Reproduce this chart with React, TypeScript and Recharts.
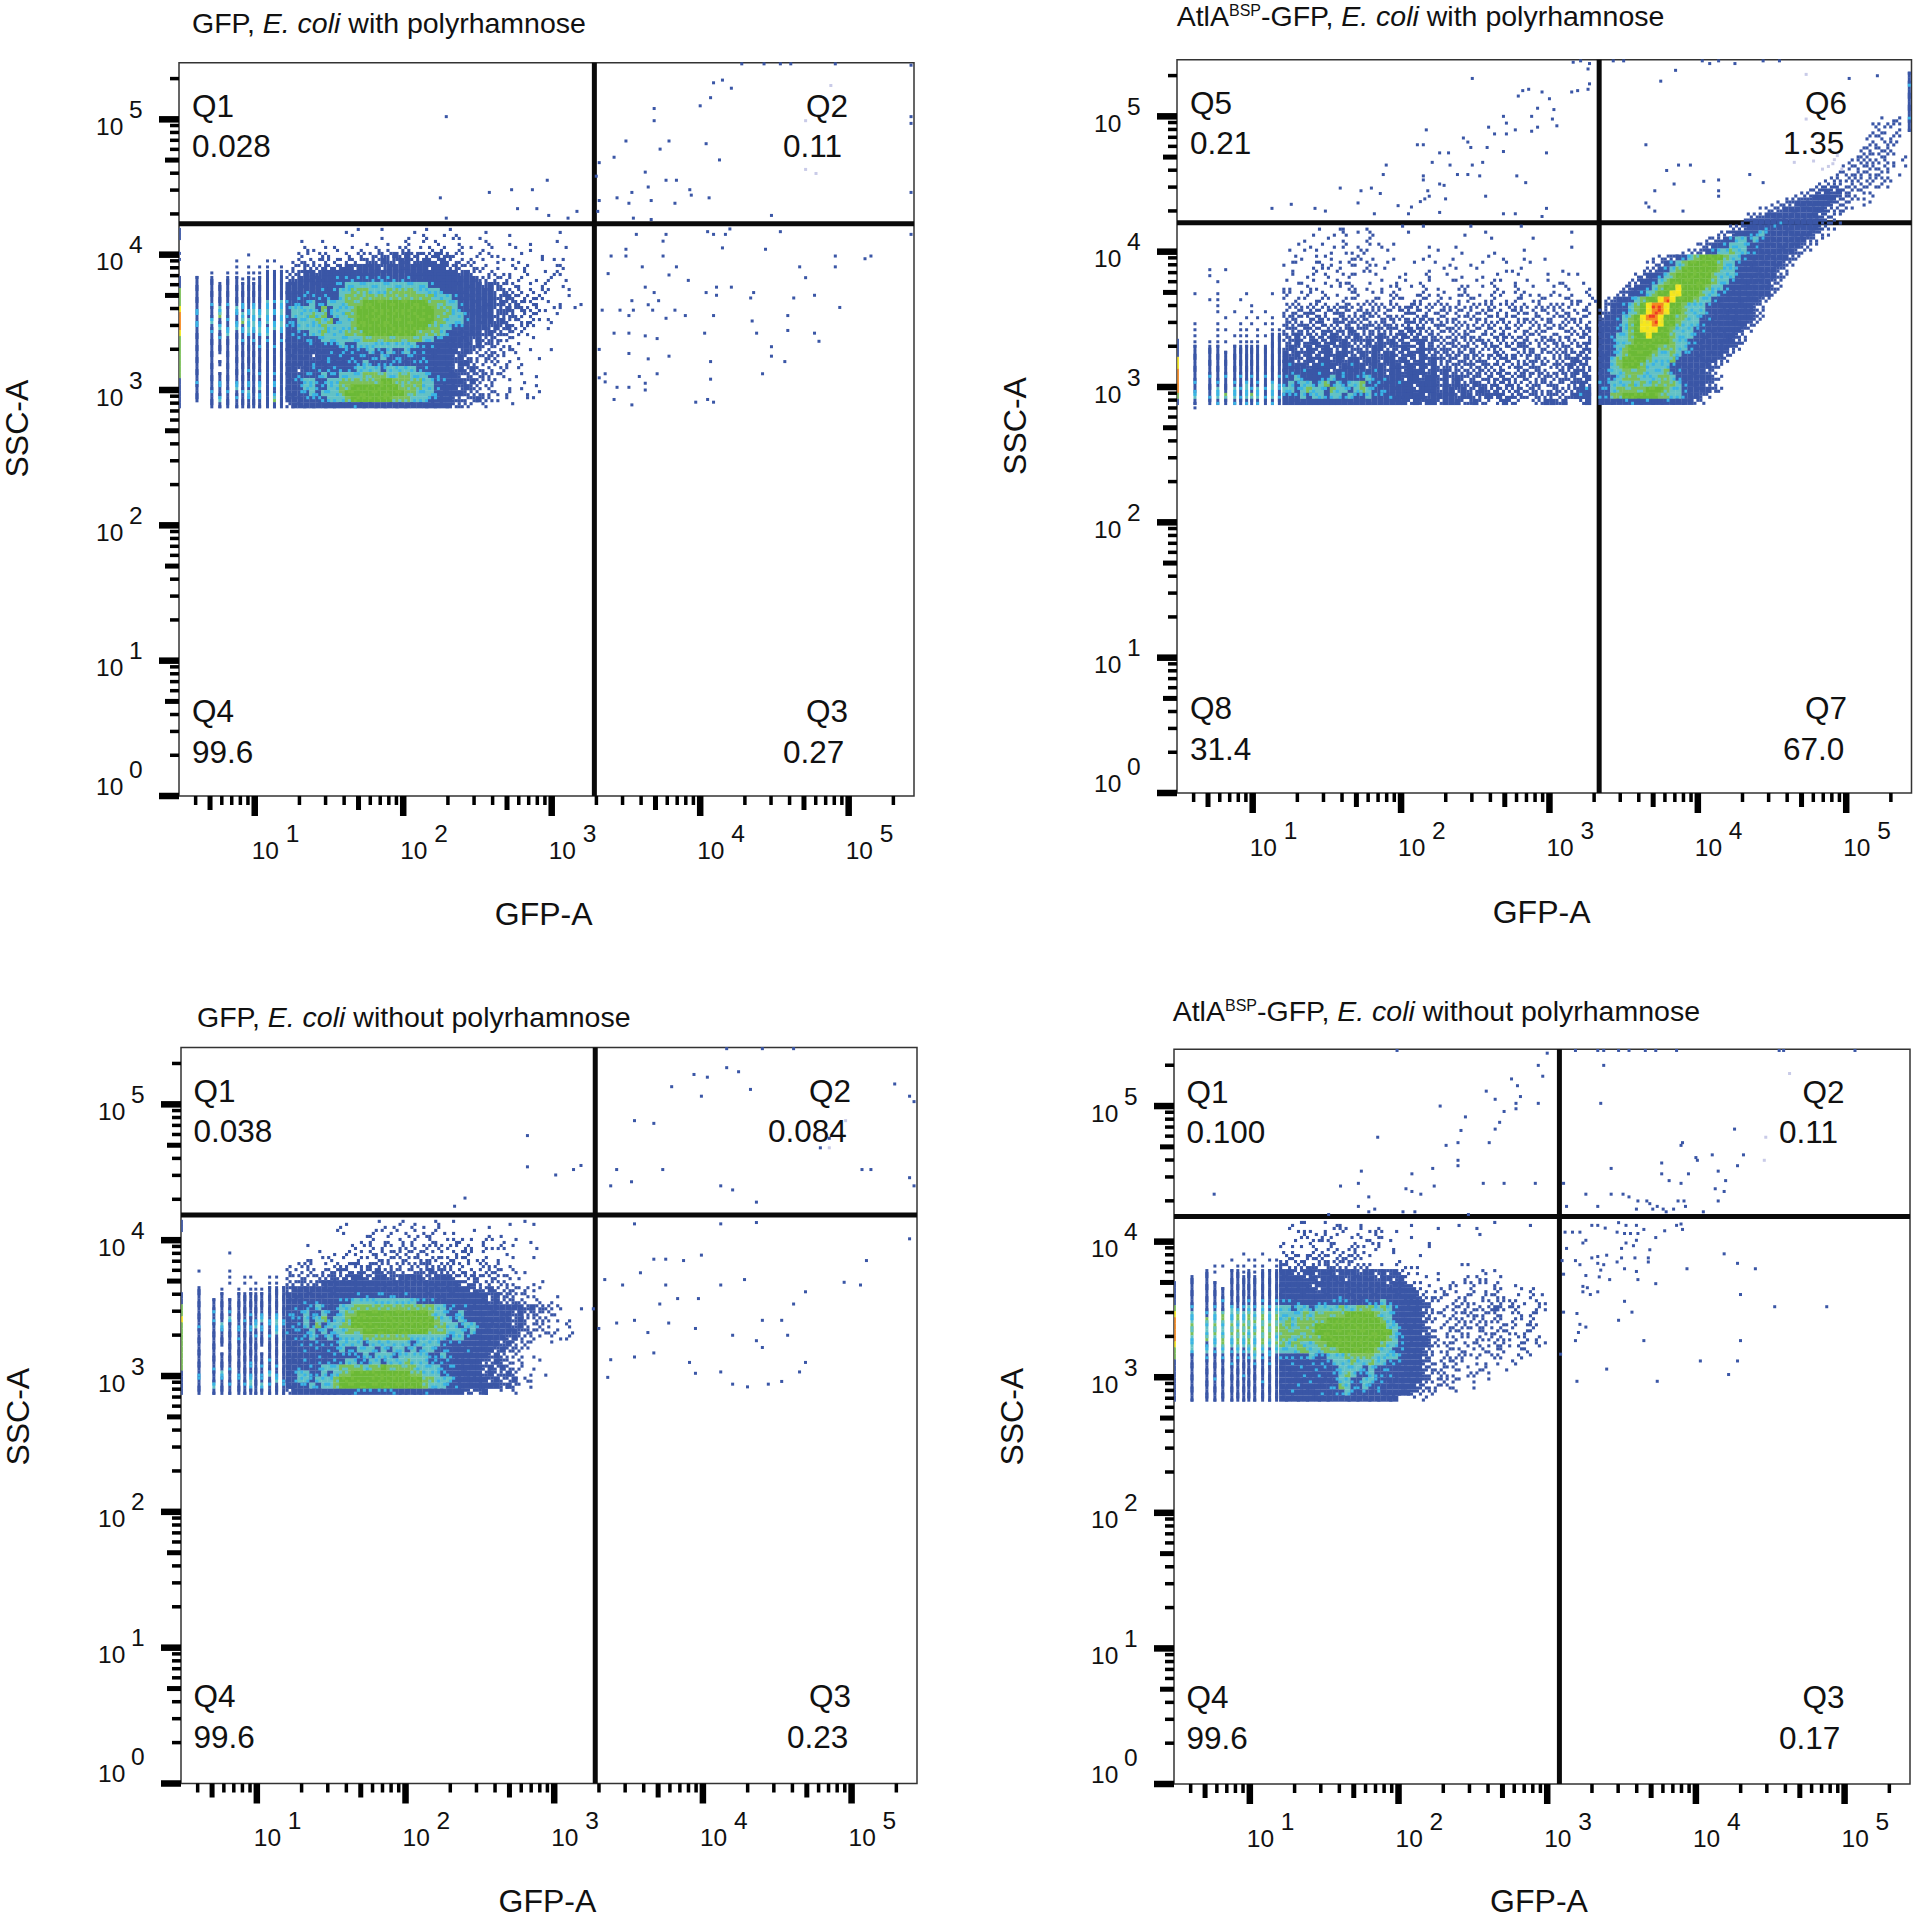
import React from 'react';
import { ScatterChart, Scatter, XAxis, YAxis, ReferenceLine, ReferenceArea } from 'recharts';

// ---------- axis ticks ----------
const X_TICKS = [4,5,6,7,8,9,10,20,30,40,50,60,70,80,90,100,200,300,400,500,600,700,800,900,1000,2000,3000,4000,5000,6000,7000,8000,9000,10000,20000,30000,40000,50000,60000,70000,80000,90000,100000,200000];
const Y_TICKS = [1,2,3,4,5,6,7,8,9,10,20,30,40,50,60,70,80,90,100,200,300,400,500,600,700,800,900,1000,2000,3000,4000,5000,6000,7000,8000,9000,10000,20000,30000,40000,50000,60000,70000,80000,90000,100000,200000];
const MAJOR_TICKS = [1,10,100,1000,10000,100000];
const MID_TICKS = [5,50,500,5000,50000];
const X_DOMAIN = [3.09, 275400];
const Y_DOMAIN = [1, 262144];

// ---------- discrete low-channel values (log10 GFP-A) ----------
const CHANNELS = [0.492,0.611,0.711,0.765,0.818,0.879,0.919,0.959,0.993,1.033,1.086,1.133,1.18];

// ---------- density tables: [first column, levels] ----------
type Row = [number, string];
const heatA: Row[] = [
[10,"o o   o    o o   o     o            o"],
[11,"o    o   o  x  o xo  o    o"],
[2,"o   o      o   o  x  o x   o   oo  o   o   o"],
[3,"xo o x  oo  x o xx o x x  x o oo   o  o     o"],
[2,"xo oxo  x xoxxixbxbxixxbxixo  x xo   o   o"],
[1,"oxoxoxoxoxxoiixbiibbxibixbxoxox o oo oo   o oo"],
[1,"xoixxixxibibbbbibbbbbbbibbxixoxox o  x x    ox"],
[0,"xxibbibbbbbbbbbbbbbbbbbbbbbbbibxo xooo  x  o xo"],
[0,"xibbbbbbcbcccccccccccbbbbbbbbbbbixoxox x  o x  o"],
[0,"bbbbbbbbccttttttttttttttcbbbbbbbbibixoxo o x  o"],
[0,"bbbcbbcbcttgggtttgggggttttcbbbbbbbbxixox x xo  o"],
[0,"bbccccccbtgggggggggggggggtttcbbbbbbiibxoxoxo   o"],
[0,"cccctcctttgggGGGGGGGGGGGgggttcbbbbbibxixoxo o o  o"],
[0,"cttttcgctttgGGGGGGGGGGGGGgggtcbbbbbxibxixoxo oo o"],
[0,"ctttgtgcttggGGGGGGGGGGGGGgggttcbbbbiixiooxo  o"],
[0,"cctttgtgcttgGGGGGGGGGGGGGggtttcbbbbibxoxoxo x"],
[0,"ccttttgttttgGGGGGGGGGGGGggttccbbbbibxbxoxo  o"],
[0,"bcccttgtttgggGGGGGGGGGggggtcbbbbbibxixoxo"],
[0,"bbcccctttttttggggggggggttccbbbbibxixoxo  o"],
[0,"bbbbcbccctccttttttttttcccbbbbbbibxixoo o"],
[0,"bbbbbbbcbccccctcctcctcbcbbbbbibixoxoxox  o  o"],
[0,"bbbbibbcbcbccccctcccccbcbbbbibxoxxixo  o  o"],
[0,"bbbbcbbcbbccctccccccbcccbbbbibbxoxox x o"],
[0,"bbibccbcccccttttctttttccbbbbibxbxox xo o"],
[0,"bbcccctccttttggggttggtttccbbbiixxixox  o  o"],
[0,"bccttccttgggggggGGgggggttccbbbibxoxo o  o"],
[0,"bbcttccttggGGGGGGGGggggttcbbbibixox  o o  o"],
[0,"bbcctctttgGGGGGGGGGGggtttcbbbbixxoxx x  o o"],
[0,"bbbcccctttgGGGGGGGgggtttccbbiixibxxo o  oo"],
[0,"xbbbbbbbbbbcbbbbbbbbbbbbbbbbxixo x    o"],
];
const stripesA = [
"b            ","b            ","             ","             ","o      o     ","o    o    oo ",
"     o o oo o","  o oo ooobbb","bbb bbobobbbb","bbbbbbbbbbbbb","gbbbbbbbbbbbb","gbbbbbbbbbbbb",
"gbcbcbcbcbtct","ycbtbtcctctct","rcbgbctctttct","rctbccgttctct","rcbtctctttctt","ybcbtbctcttbc",
"gbbcbbcbcbcbc","gbbbbbbbbcbcb","gbbbbbbbbbbbb","gbb bbbbbbbbb","gbbbbbbbbbbbb","gbb bbbcbbbbb",
"gbbbbbbbbcbcb","bcbcbcbcbcbcb","bbbcbtbcbtbcb","cbcbcbctbcbcb","bbbtbcbcbcbgb","c bbbbbbbbbbb",
];
const sparseA: number[][] = [
[2.29,5.02],[2.25,4.42],[2.58,4.46],[2.73,4.48],[2.87,4.48],[2.97,4.55],[2.77,4.34],[2.90,4.34],[2.98,4.29],[3.11,4.27],[3.17,4.32],[2.29,4.27],
[3.32,4.68],[3.30,4.58],[3.42,4.72],[3.50,4.84],[3.69,5.08],[3.69,4.99],[3.73,4.78],[3.79,4.84],[4.00,5.10],[4.07,5.16],[4.09,5.27],[4.15,5.29],[4.21,5.23],[4.04,4.82],[4.13,4.70],[3.63,4.61],[3.77,4.55],[3.84,4.55],[3.65,4.50],[3.54,4.46],[3.44,4.42],[3.32,4.40],[3.52,4.38],[3.67,4.40],[3.83,4.38],[3.93,4.48],[3.94,4.44],[4.06,4.42],[4.48,4.29],[3.31,4.32],[3.55,4.27],[3.67,4.26],
[4.28,5.41],[4.43,5.41],[4.54,5.41],[4.61,5.41],[4.91,5.41],[5.42,5.40],[5.42,5.02],[5.42,4.97],[5.42,4.46],[5.42,4.15],
[3.57,4.15],[3.77,4.15],[3.75,4.10],[4.05,4.17],[4.09,4.15],[4.17,4.15],[4.20,4.19],[4.54,4.17],[4.15,4.05],[4.44,4.04],[3.50,4.04],[3.40,3.99],[3.50,3.99],[3.75,3.99],[4.91,3.99],[5.11,3.97],[5.15,3.99],[3.61,3.91],[3.84,3.91],[4.67,3.91],[4.91,3.91],[3.38,3.86],[3.79,3.85],[4.71,3.83],[3.92,3.81],[3.63,3.76],[4.11,3.76],[4.21,3.76],[4.04,3.72],[3.69,3.72],[4.11,3.70],[4.36,3.72],[4.34,3.68],[4.77,3.70],[4.63,3.68],[3.72,3.66],[3.54,3.66],[3.65,3.63],[3.68,3.59],[4.94,3.61],[3.34,3.59],[3.46,3.59],[3.55,3.59],[3.52,3.55],[3.83,3.59],[3.90,3.55],[4.09,3.55],[4.59,3.55],[3.77,3.53],[4.35,3.51],[4.03,3.42],[4.38,3.42],[4.59,3.44],[4.77,3.42],[4.80,3.36],[3.42,3.42],[3.52,3.42],[3.63,3.40],[3.71,3.38],[4.48,3.32],[4.48,3.25],[3.32,3.30],[3.52,3.27],[3.79,3.25],[3.65,3.23],[4.57,3.21],[4.07,3.21],[4.42,3.12],[3.71,3.12],[3.59,3.10],[3.36,3.12],[4.07,3.08],[3.63,3.05],[3.44,3.02],[3.52,3.02],[3.63,3.00],[3.54,2.89],[3.42,2.93],[3.97,2.91],[4.05,2.93],[4.09,2.91],[3.32,3.09],[3.36,3.06],
];
const faintA: number[][] = [[4.71,4.99],[4.88,5.25],[4.71,4.63],[4.78,4.60]];

const bandB: Row[] = [
[6,"o  oo   o     o  o       o        o"],
[5,"o  o x o oo     o        o   o             o"],
[3,"o   o  o   x                    o      o"],
[2,"o o o o x o o x o     o    o                  o"],
[1,"o o o  o oo xo  o        o   o    o    o"],
[2,"oo o oo  oxo o  o    oo   o     o  o  o   o"],
[0,"ooo  ox oo xo xo o    o  o  o  o o   o   o"],
[1,"o   xoo x   ox  o      o  o o  o    oo o      o"],
[1,"o  oo x  oxo  o   oo   x  o  o  o  o  o    o   oo"],
[0,"o oo o o xoo  o o  oo  oo   oo  o  xo  o o  o oo  o"],
[0,"oo  xo  oo xo o o ox o oo o  oxo o oo  x  o  o oo  o"],
[0,"xo ox oo o ox  oo xo  oxo oo oxo o xoo oxo o xo o  x"],
[0,"o xo oxo  xoo oxo xoo oxo x oo xo ox o xo oxo  oxoo x"],
[0,"oxxoxxoxoxixoxoxxoxxoixoxxoxoxooxoxxooxoxooxoxxoxo x"],
[0,"xoxxixoxxixoxxixoxooxixoxoxxoxoxoxxoxooxxoxoxooxoxox"],
[0,"xixoxxixoxixxixoxxixxoxixoxxoxoxxoxoxxoxooxxoxoxxoxo"],
[0,"ixxixxioxixixxixxixoxixxoxixoxxoxoxxoxoxxoxoxxoxoxox"],
[0,"xixxixxixixbxixxixixxbxixoxxixoxxoxxoxoxoxoxxooxxoxi"],
[0,"ixbxixixbixibxixbixibxixxixoxxixoxoxxixoxxoxoxxoxoix"],
[0,"xibxibxibibxiibxbibxixibxixxixoxxixoxxoxixoxxixoxxoi"],
[0,"ibixbiibxibiixibbxiibixbiixixxixxoxixoxxixoxxoxixoxi"],
[0,"bibibxibibbixbibibbxibibxixixixxixoxixoxxixxoxxixxix"],
[0,"bbixbibbibibbibbibbibxibibixixixxixoxixxoxixxoxxibxi"],
[0,"bcbbibcbbibcbbibbibbibibibxixixixxixxoxixxixoxixbxix"],
[0,"bcbcbbcbibcbbcbcbibbibbbibibxixixixxixoxixxixoxixbix"],
[0,"cbtcbbcctbcbcctcbcbbibbibbibibixixixxixxixoxixxixixb"],
[0,"ctcttctgctcttgcccbbcbbibbbibibixbixixxixoxixxixoxibx"],
[0,"ttctgttcgttctgtcccbbbbibbbibbibixbixixxixxixoxixxibc"],
[0,"ccctcttcttctcctccbcbbbbbibbbbibbxibibxixixixxixxibcb"],
[0,"bbbbbbbbbbbbbbbbbbbbbxbibbxbbbxibxx xbxx  xxbbib  xb"],
];
const blobB: Row[] = [
[47,"o ox"],[46,"xoxxo"],[46,"oxo x"],[45,"xox xo"],[45,"ox xxo"],[44,"xxoxxo"],[43,"oxxoxxo o"],[42,"xoxxxoxo o"],
[41,"oxxoxxoxo o"],[40,"xxoxxxoxo o"],[38,"oxxoxxoxxoxo"],[36,"oxxixoxoxxoxo"],[34,"oxxibibxxoxo"],[31,"ooxiibbbbixxxo o"],[29,"oxxibbbbbbixxo oo"],[27,"oxxibbbbbbbixxxo"],
[25,"xxibbbbbbbbbixxo"],[24,"xibbbbcbbbbbbixxo"],[22,"xxibbbccbbbbbbbixo"],[20,"xxibbcctcbbbbbbbixo"],[18,"xxibcttctcbbbbbbbixo"],[16,"oxibbctttccbbbbbbbixo"],[14,"oxxibcttgttccbbbbbbixo"],[9,"oxxibctgGGGGgttcbbbbbbbix"],
[8,"oxxbctgGGGGGgttcbbbbbbbix"],[7,"oxxbctgGGGGGGgttcbbbbbbix"],[6,"xxbbctgGGGGGGgtttcbbbbbbix"],[5,"xxbbctgGGGGGGGgttcbbbbbbix"],[4,"xibbctgGGyGGGGgttcbbbbbbbix"],[3,"xibbctgGGyyGGGgttccbbbbbbbx"],[1,"xibbctgGGyryGGGgttcbbbbbbbix"],[1,"ibbctgGyrryGGgtttcbbbbbbbix"],
[0,"xibbctgGyrryGGgtttcbbbbbbbix"],[0,"ibbctgGyrryGGggttccbbbbbbbix"],[0,"bbbctgGyyryGGgtttcbbbbbbbix"],[0,"bbbctgGyyyGGgtttccbbbbbbix"],[0,"bbcttgGGyGGGgtttcbbbbbbix"],[0,"bbcttgGGGGGGgttccbbbbbbix"],[0,"bbctgGGGGGgggttcbbbbbbix"],[0,"bbctgGGGGgttgtccbbbbbix"],
[0,"bbtgGGGGgtttgcbbbbbbix"],[0,"bbtgGGGgttttcbbbbbbix"],[0,"bcttggggtttgccbbbbix"],[0,"bcctgggtttggtcbbbbbix"],[0,"cctttgtgtggggtcbbbix"],[0,"cctgggggGGGgttcbbbbix"],[0,"ccggGGGGGGggttcbbix"],[0,"bbbbccbbcbbcbbbbxx"],
];
const stripesB = [
"             ","             ","             ","             ","             ","             ","             ",
"  o o        ","  o          ","   o         ","             "," o o   o   o ","  oo  o      ","   o    o    ",
"   o o  o o  ","    o  o o o "," o o  o o oo "," o oo oo o oo"," o o ooo oobb","boooo oooo bb","bbbb bbbbbbbb",
"bbbbbbbbbbbbb","ybbbbbbbbbbbb","ybbbbbbbbbbbb","rbbbbbbbbbbbb","rbcbcbcbcbcbc","rcbcbcbtbcbtc","rcbtbtctctctc","gtctgtctgtctc","bbbcbcbcbcbcb"," o           ",
];
const edgeChannelB = [0,5.425];
const edgeStripeB = [" b"," b"," c"," b"," b"," b"," b"," c"," b"," b"];
const sparseB: number[][] = [
[2.48,5.28],[2.79,5.15],[2.82,5.19],[2.86,5.20],[2.95,5.18],[3.00,5.13],[3.15,5.18],[3.19,5.19],[3.26,5.20],[3.27,5.24],[3.16,5.40],[3.21,5.41],[3.27,5.39],[3.26,5.35],[2.92,5.06],[3.03,5.05],[3.02,4.98],[3.05,4.93],[2.88,5.00],[2.69,5.00],[2.71,4.95],[2.71,4.87],[2.59,4.92],[2.77,4.90],[2.92,4.92],[2.88,4.89],[2.63,4.87],[2.17,4.90],[2.42,4.84],[2.45,4.81],[2.47,4.77],[2.58,4.77],[2.69,4.74],[2.11,4.79],[2.15,4.79],[2.26,4.73],[2.32,4.73],[2.98,4.73],[2.21,4.66],[2.33,4.64],[2.48,4.64],[2.55,4.66],[1.90,4.64],[1.88,4.57],[2.15,4.56],[2.15,4.53],[2.38,4.57],[2.45,4.57],[2.53,4.56],[2.78,4.56],[2.84,4.51],[2.26,4.50],[2.29,4.49],[1.59,4.47],[1.80,4.47],[1.73,4.45],[1.86,4.43],[2.18,4.45],[2.19,4.41],[2.57,4.41],[1.71,4.36],[2.13,4.37],[2.16,4.39],[2.30,4.39],[1.98,4.34],[2.07,4.33],[1.13,4.32],[1.26,4.35],[1.42,4.32],[1.49,4.30],[1.82,4.28],[2.05,4.28],[2.26,4.29],[2.69,4.28],[2.77,4.28],[2.98,4.32],[2.95,4.26],
[3.75,5.26],[3.85,5.34],[4.08,5.39],[4.25,5.39],[5.21,5.30],[5.02,5.28],[3.65,4.79],[3.79,4.60],[3.87,4.64],[3.95,4.64],[4.35,4.57],[3.84,4.50],[4.04,4.52],[4.14,4.53],[3.71,4.45],[4.14,4.45],[4.14,4.41],[4.44,4.51],[3.65,4.36],[3.67,4.33],[3.71,4.30],[3.90,4.30],
[3.43,5.41],[3.50,5.41],[4.03,5.41],[4.14,5.41],[4.44,5.41],[4.55,5.41],
];
const faintB: number[][] = [[4.73,5.31],[4.73,4.98],[4.65,4.66],[4.78,4.67],[4.91,4.65],[4.97,4.61],[4.84,4.61],[4.94,4.71],[4.88,4.63],[4.92,4.68]];

const heatC: Row[] = [
[10,"o    o   x o   x  o        o  oo"],[8,"oo     ox x  x o x     o  o"],[9,"o   ox  x  x oxx o o     o o"],[12,"o x oo x x  xo oxx o xo o o  o"],
[3,"o       x ox xo xox xoxoxo xo xoox o   o"],[5,"o  o xoo xoxoxoxoxxo o xoxo o   o"],[3,"oo ox o  xo xoxoxxoxoxxoxxox ox o  o  o"],[0,"o xxo o xoxixoixoxoxoxxixoxxoxo oxox o"],
[0,"xooox xxxixoixxbxixxoxixbxixoxoxooxxo x o"],[0,"xoxxoxxiixibbixbbiibbbbxibbbxoxixoxxox o"],[0,"xxixxibbbbbbbbbbbbbbbbbbbbbbbixixoxoxoo  o o"],[0,"ibbbbbbbbbbbbbbbbbbbbbbbbbbbbbbiixbxoxxoxoo"],
[0,"bbbbbbbbbbbbccbccccbcbbbbbbbbbbbbbibxixoxo   o"],[0,"bbbcbcbbbcctttttttttttcccbbbbbbbbbibxxixo x o"],[0,"bcbcctcbcttggggggggggggggttccbcbbbbbbbbbibxixoo  o o"],[0,"ccctcctcctggGGGGGGGGGGGGgttcctbbbbbbbbibxixoxo"],
[0,"bcctctgcttgGGGGGGGGGGGGGGgttctcbbbbbbbibxoxxoo o"],[0,"bcctcgcttggGGGGGGGGGGGGGGggttcttcbbbbbibxoxoo  x"],[0,"cccctctcttgggGGGGGGGGGGGgggtttctbbbbbbbiixoxox  o"],[0,"bccctcctcttttggggggggttttttcttcbbbbbbibxoxo o ox"],
[0,"bbcbcccccttttctttttttcttttccbcbbbbbbibxoxo  o"],[0,"bbbcbcbcctcctttctcttctcttcccbbcbbbbibxixo"],[0,"bbbbbcbbccccctctttctttttcctcbbbbbbibxoxo o"],[0,"bbbcbcbcccttccttctttgtttccccbbbbbixbixox  o"],
[0,"bbcbcctttggggtggGgggggttttcccbbbbibxbxox o"],[0,"bcttcctctggGGGGGGGGGGggtttccbbbbbibxibx  o o"],[0,"bcttctttgGGGGGGGGGGGGGGggtttcbbbbbibxxb xo"],[0,"bbcctcttgGGGGGGGGGGGGGGgtttccbbbbbbbibxo o"],[0,"xbbbbbbbbbbccccccccbbbbcbbbbbbixib  o x"],
];
const stripesC = [
"b            ","b            ","             ","             ","             ","    o        ","             ","             ",
" o  o        ","    o oo  oo ","    o o o oo "," b o o ooobbb","bb b bbbbbbbb","bbbbbbbbbbbbb","gbbbbbbbbbbbb","gbcbcbbcbcbcb",
"ybcbtbcbctctc","gcbtbcbctcctc","gbbcbcbcbcbtb","gbbbbcbbcbcbb","gbbbbbbbbbbbb","gbb bbbbb bbb","gbbbbbbbbbbbb","gbbbbbbcbbcbb",
"gbcbcbbcbcbcb","bcbtbcbcbctcb","bcbcbcbtbcbtc","cbtbcbctbtcbc","bbbbbbbbbbbbb",
];
const sparseC: number[][] = [
[2.82,4.77],[2.82,4.54],[2.40,4.31],[2.33,4.25],[3.01,4.48],[3.13,4.52],[3.18,4.55],
[3.54,4.88],[3.67,4.86],[3.79,5.13],[3.94,5.22],[4.03,5.20],[4.16,5.27],[4.24,5.24],[3.99,5.06],[4.32,5.11],[5.29,5.15],[5.39,5.06],[5.42,5.02],[4.79,4.68],[4.85,4.75],[5.07,4.52],[5.13,4.52],[5.39,4.46],[5.42,4.40],[3.42,4.52],[3.38,4.40],[3.52,4.43],[3.73,4.52],[4.12,4.40],[4.20,4.37],[4.36,4.28],[4.40,5.41],[4.61,5.41],[4.16,5.41],
[3.54,4.12],[4.12,4.12],[4.36,4.13],[5.39,4.01],[5.10,3.85],[4.95,3.69],[5.06,3.67],[3.34,3.71],[3.46,3.67],[3.58,3.76],[3.67,3.86],[3.75,3.86],[3.87,3.85],[3.99,3.89],[3.75,3.67],[3.83,3.57],[3.97,3.57],[3.71,3.53],[4.12,3.67],[4.28,3.71],[4.40,3.41],[4.53,3.41],[4.61,3.53],[4.69,3.62],[3.42,3.39],[3.54,3.41],[3.30,3.35],[3.63,3.32],[3.77,3.39],[3.95,3.35],[4.20,3.30],[4.36,3.26],[4.57,3.30],[4.69,3.10],[4.40,3.21],[3.38,3.12],[3.54,3.14],[4.12,3.03],[4.20,2.94],[4.30,2.92],[4.44,2.94],[4.53,2.96],[4.65,3.03],[3.36,2.99],[3.67,3.17],[3.91,3.10],[3.95,3.02],
];
const faintC: number[][] = [[4.96,4.88],[4.85,4.68]];

const heatD: Row[] = [
[2,"ooo  o oo  o        o       o     o     o"],[1,"o ooo o oxo o oxo o      o      o"],[3,"ox oxoo  ox  xo    o          o"],[0,"o o  xooxo  o oxo o      o"],
[0,"o oo oo xo oxoo x  o     o"],[0,"ooxooxoxooxoxooo   o   o"],[0,"oxxoxoxxoxixxo      o"],[0,"ixoxxixoixoxoxxo o o ooo      oo"],
[0,"bbixbbibbibbbibbibibxo o  o       x o"],[0,"bbbbibibbbbibbbbibbibo  o o    x xo  o"],[0,"bbbbbibbbbbbbbbbbbibbixo o  ox oxoo x  o"],[0,"bbbbbbibbbbbbbbbbbbbbbbxo oxoo  x o xo  o x"],
[0,"bbbbbbbbbbcbbbbbbbbbbbbixooxo oxo xoxo  o x o"],[0,"ccbcbbccbcccbbccctcbbbbbixo  xoxo oxoxox o xo"],[0,"ttcttcttttgttgggtgtcbbbbix ooxoxoxoxbxoxo  xo"],[0,"ttttgtgggggGGGGGgttcbbbbixox xoxxoxoxo ox xo"],
[0,"tgtgggggGGGGGGGGGgtcbbbbixo xoxoxoxoxo xo x"],[0,"ggtgggGGGGGGGGGGGGttcbbbio xoxoxoxxo xox oxo"],[0,"ggggggGGGGGGGGGGGGGtcbbbixo xoxo oxoxoxo xo"],[0,"ggtggggGGGGGGGGGGGgtcbbbbix oxoo xoxoxo ox x"],
[0,"gtggttggGGGGGGGGGgttcbbbbixoxo xox oxxo xo xo"],[0,"tttggttgggGGGGGGgttccbbbix oxoxoo xoox  ox"],[0,"ccccctcctttgggggttttcbbbix oxoxoox oxo  x o"],[0,"bbcbbcbcctttgttgttcccbbbixoxoxo  oo o  x"],
[0,"bbbcbbccbcttttctcccbbbbbixoxoxoo ox   o"],[0,"bbbbcbcbbctgtcctcccbbbbbixoxoo oxo o"],[0,"bbbbbcbbbcttccttccbbbbbbixoxoxo o  o"],[0,"bbbcbbbbccgtcctccbbbbbbixoxoxo  o"],[0,"bbcbbbbcbcctcbcbcbbbbbixoxo  o"],[0,"bbbbbbbbbbbbbbbbbbbb  o x"],
];
const stripesD = [
"             ","             ","             ","             ","             ","       o  o  ","     o  oo oo","   oo oo oo o","  bo bbobobbb"," bb  bbbbbbbb",
"bbbb bbbbbbbb","bbbbbbbbbbbbb","bbbbbbbbbbbbb","bbbbcbbbcbcbc","gcbcbtcctctct","ytctgtgtgtgtg","rtgtgtgtgggtg","rgtgtgtggtggg","rgtgtgggtgggg","rtgtgtgtgtggt",
"ytctgtgtgtgtg","gttctctctgtct","gbcbcbcbctccb","bbbbbcbbbcbcb","bbbbbbbbbbbbb","bbbbbbbcbbbbb","bbbcbbbbbbcbb","bbbbbbbbbbbbb","bbbbbbbbbbbbb","bbbbbbbbbbbbb",
];
const sparseD: number[][] = [
[3.00,5.39],[2.94,5.30],[2.97,5.22],[2.76,5.20],[2.80,5.15],[2.59,5.11],[2.82,5.07],[2.65,5.05],[2.79,5.02],[2.94,5.02],[2.28,5.00],[2.79,4.98],[2.71,4.96],[2.45,4.92],[2.68,4.88],[2.65,4.83],[2.42,4.82],[1.86,4.77],[2.40,4.73],[2.61,4.73],[2.32,4.71],[2.40,4.60],[2.40,4.56],[2.23,4.54],[1.75,4.52],[2.09,4.50],[1.73,4.43],[2.57,4.43],[2.71,4.43],[2.92,4.43],[1.61,4.41],[2.24,4.41],[2.05,4.39],[2.09,4.37],[2.15,4.35],[0.76,4.35],[1.80,4.33],[1.73,4.26],[1.84,4.24],[1.80,4.22],[2.03,4.22],[2.11,4.22],[1.53,4.20],[2.47,4.20],
[3.38,5.30],[3.36,5.02],[4.26,4.83],[3.91,4.73],[3.90,4.71],[4.00,4.62],[4.01,4.60],[4.11,4.64],[4.32,4.64],[3.77,4.58],[4.28,4.56],[3.77,4.50],[3.43,4.54],[3.95,4.50],[4.15,4.52],[3.82,4.45],[4.20,4.45],[3.90,4.43],[3.11,4.43],[4.13,4.39],[4.19,4.37],[3.26,4.35],[3.43,4.35],[3.51,4.35],[3.55,4.33],[3.61,4.30],[3.67,4.30],[3.69,4.28],[3.71,4.24],[3.74,4.26],[3.88,4.30],[3.92,4.30],[4.15,4.30],[3.13,4.26],[3.34,4.26],[3.60,4.24],[3.78,4.24],[3.85,4.24],[3.80,4.22],[4.05,4.22],[3.93,4.26],
[1.99,5.41],[3.19,5.41],[3.34,5.41],[3.38,5.41],[3.48,5.41],[3.55,5.41],[3.66,5.41],[3.73,5.41],[3.87,5.41],[4.56,5.41],[4.59,5.41],[5.07,5.41],
[3.12,4.07],[3.17,4.07],[3.22,4.07],[3.26,4.01],[3.24,3.99],[3.30,4.12],[3.34,4.12],[3.39,4.10],[3.47,4.07],[3.48,4.14],[3.53,4.12],[3.60,4.12],[3.52,4.06],[3.56,4.06],[3.61,4.06],[3.65,4.09],[3.60,4.01],[3.53,3.99],[3.73,4.03],[3.79,4.08],[3.87,4.12],[3.91,4.09],[3.90,4.13],[3.69,3.94],[3.50,3.95],[3.58,3.97],[4.19,3.91],[4.28,3.84],[4.40,3.80],[3.94,3.80],[3.13,3.95],[3.10,3.86],[3.19,3.86],[3.30,3.88],[3.34,3.89],[3.40,3.90],[3.50,3.88],[3.59,3.88],[3.68,3.88],[3.22,3.83],[3.34,3.84],[3.38,3.83],[3.47,3.85],[3.68,3.85],[3.36,3.79],[3.60,3.78],[3.52,3.80],[3.11,3.76],[3.26,3.75],[3.35,3.74],[3.42,3.72],[3.61,3.72],[3.24,3.67],[3.27,3.66],[3.24,3.63],[3.29,3.61],[3.34,3.63],[3.73,3.69],[4.30,3.61],[3.52,3.56],[3.57,3.48],[3.11,3.48],[3.20,3.47],[3.48,3.42],[3.22,3.39],[3.26,3.37],[3.21,3.33],[3.19,3.27],[3.65,3.27],[4.30,3.27],[3.09,3.17],[4.03,3.12],[4.28,3.12],[3.40,3.06],[4.22,3.02],[3.20,2.97],[3.74,2.97],[4.53,3.52],[4.88,3.52],
];
const faintD: number[][] = [[4.63,5.24],[4.47,4.77],[4.46,4.60],[4.60,4.75]];

// ---------- gates, quadrant text ----------
const gatesA = [1938, 16900];
const gatesB = [2163, 16360];
const gatesC = [1888, 15350];
const gatesD = [1208, 15300];
const quadA = ["Q1","0.028","Q2","0.11","Q4","99.6","Q3","0.27"];
const quadB = ["Q5","0.21","Q6","1.35","Q8","31.4","Q7","67.0"];
const quadC = ["Q1","0.038","Q2","0.084","Q4","99.6","Q3","0.23"];
const quadD = ["Q1","0.100","Q2","0.11","Q4","99.6","Q3","0.17"];

// ---------- table builders ----------
const DX = 0.04, DY = 0.0444;
const gridPoints = (x0: number, y0: number, rows: Row[]) => {
  const out: any[] = [];
  rows.forEach(([start, s], r) => {
    for (let i = 0; i < s.length; i++) {
      if (s[i] === ' ') continue;
      const c = start + i;
      out.push({ x: 10 ** (x0 + DX * (c + 0.5)), y: 10 ** (y0 - DY * (r + 0.5)), k: s[i], f: (c * 3 + r * 5 + (c * r) % 3) % 4 });
    }
  });
  return out;
};
const stripePoints = (xs: number[], y0: number, rows: string[]) => {
  const out: any[] = [];
  rows.forEach((s, r) => {
    for (let i = 0; i < s.length && i < xs.length; i++) {
      if (s[i] === ' ') continue;
      out.push({ x: 10 ** xs[i], y: 10 ** (y0 - DY * (r + 0.5)), k: s[i], f: (r + i) % 2, edge: i === 0 });
    }
  });
  return out;
};
const listPoints = (l: number[][]) => l.map(([a, b]) => ({ x: 10 ** a, y: 10 ** b }));

// ---------- palette and mark shapes ----------
const BLUE = '#3a56a6', CYAN = '#3ab4e6', TEAL = '#62c2c6', LGREEN = '#7cc05a', GREEN = '#6bb936', LGREEN2 = '#78bf3e',
  YELLOW = '#f6e71d', ORANGE = '#f58a20', RED = '#ee3a24', FAINT = '#c9cbe8';
const BASE: any = { b: [BLUE, BLUE], c: [BLUE, CYAN], t: [TEAL, CYAN], g: [LGREEN, TEAL], G: [GREEN, LGREEN2], y: [YELLOW, '#e8e030'], r: [ORANGE, RED] };
const SUB = [[0, 0], [3, 0], [0, 3], [3, 3]];

const HeatCell = (p: any) => {
  const { cx, cy, payload: { k, f } } = p;
  if (cx == null) return null;
  const x = cx - 3, y = cy - 3;
  const sub = (i: number, fill?: string) => <rect key={i} x={x + SUB[i][0]} y={y + SUB[i][1]} width={3.1} height={3.1} fill={fill} />;
  if (k === 'o') return <g fill={BLUE}>{sub(f)}</g>;
  if (k === 'x') return <g fill={BLUE}>{sub(f)}{sub(3 - f)}</g>;
  if (k === 'i') return <g fill={BLUE}>{[0, 1, 2, 3].filter(i => i !== f).map(i => sub(i))}</g>;
  const [a, b] = BASE[k] || BASE.b;
  return <g><rect x={x} y={y} width={6.2} height={6.2} fill={a} />{sub(f, b)}</g>;
};
const StripeCell = (p: any) => {
  const { cx, cy, payload: { k, f, edge } } = p;
  if (cx == null) return null;
  const x = cx - 1.5, y = cy - 3;
  if (edge) return <rect x={cx} y={y} width={1.6} height={k === 'o' ? 3 : 6.2} fill={(BASE[k] || BASE.b)[0]} />;
  if (k === 'o') return <rect x={x} y={y + 1.5} width={3} height={3} fill={BLUE} />;
  const [a, b] = BASE[k] || BASE.b;
  return <g><rect x={x} y={y} width={3} height={6.2} fill={a} /><rect x={x} y={f ? y : y + 3} width={3} height={3} fill={b} /></g>;
};
const Dot = (p: any) => p.cx == null ? null : <rect x={p.cx - 1.5} y={p.cy - 1.5} width={3} height={3} fill={BLUE} />;
const FaintDot = (p: any) => p.cx == null ? null : <rect x={p.cx - 1.5} y={p.cy - 1.5} width={3} height={3} fill={FAINT} />;

// ---------- ticks ----------
const FONT = '"Liberation Sans", Arial, sans-serif';
const tickDims = (v: number) => MAJOR_TICKS.includes(v) ? [6.5, 20] : MID_TICKS.includes(v) ? [5, 14] : [3.5, 9];
const XTick = (p: any) => {
  const { x, y, payload: { value } } = p;
  const [w, l] = tickDims(value);
  const major = MAJOR_TICKS.includes(value);
  return (
    <g>
      <rect x={x - w / 2} y={y} width={w} height={l} fill="#000" />
      {major && <text x={x - 3} y={y + 62.5} fontSize={24.5} fontFamily={FONT} fill="#111">10</text>}
      {major && <text x={x + 31} y={y + 45.5} fontSize={24.5} fontFamily={FONT} fill="#111">{Math.round(Math.log10(value))}</text>}
    </g>
  );
};
const YTick = (p: any) => {
  const { x, y, payload: { value } } = p;
  const [w, l] = tickDims(value);
  const major = MAJOR_TICKS.includes(value);
  const shift = value === 1 ? -17 : 0;
  return (
    <g>
      <rect x={x - l} y={y - w / 2} width={l} height={w} fill="#000" />
      {major && <text x={x - 83} y={y + 15.5 + shift} fontSize={24.5} fontFamily={FONT} fill="#111">10</text>}
      {major && <text x={x - 50} y={y - 1.5 + shift} fontSize={24.5} fontFamily={FONT} fill="#111">{Math.round(Math.log10(value))}</text>}
    </g>
  );
};

// ---------- one panel ----------
const Panel = ({ box, plot, gates, layers, dots, faint }: any) => {
  const [bx, by, bw, bh] = box;
  const [l, r, t, b] = plot;
  return (
    <div style={{ position: 'absolute', left: bx, top: by, width: bw, height: bh }}>
      <ScatterChart width={bw} height={bh} margin={{ left: l - bx - 1, right: bx + bw - r, top: t - by, bottom: by + bh - b - 1 }}>
        <XAxis type="number" dataKey="x" scale="log" domain={X_DOMAIN} ticks={X_TICKS} interval={0} tick={XTick} tickLine={false} axisLine={false} height={1} tickSize={0} tickMargin={0} />
        <YAxis type="number" dataKey="y" scale="log" domain={Y_DOMAIN} ticks={Y_TICKS} interval={0} tick={YTick} tickLine={false} axisLine={false} width={1} tickSize={0} tickMargin={0} />
        {layers.map((ly: any, i: number) => (
          <Scatter key={i} data={ly.data} shape={ly.shape} isAnimationActive={false} />
        ))}
        <Scatter data={dots} shape={Dot} isAnimationActive={false} />
        <Scatter data={faint} shape={FaintDot} isAnimationActive={false} />
        <ReferenceArea x1={X_DOMAIN[0]} x2={X_DOMAIN[1]} y1={Y_DOMAIN[0]} y2={Y_DOMAIN[1]} fill="none" stroke="#333" strokeWidth={1.5} />
        <ReferenceLine x={gates[0]} stroke="#0a0a0a" strokeWidth={5} />
        <ReferenceLine y={gates[1]} stroke="#0a0a0a" strokeWidth={5} />
      </ScatterChart>
    </div>
  );
};

const QuadText = ({ plot, q, xs }: any) => {
  const t = plot[2];
  const ys = [54, 94, 54, 94, 659, 700, 659, 700];
  return <g fontSize={31.5} fontFamily={FONT} fill="#111">{q.map((s: string, i: number) => <text key={i} x={xs[i]} y={t + ys[i]}>{s}</text>)}</g>;
};

const Title = ({ x, y, atla, tail }: any) => (
  <text x={x} y={y} fontSize={28.5} fontFamily={FONT} fill="#111">
    {atla && <tspan>AtlA</tspan>}
    {atla && <tspan fontSize={16} dy={-10}>BSP</tspan>}
    {atla && <tspan dy={10}>-</tspan>}
    <tspan>GFP, </tspan><tspan fontStyle="italic">E. coli</tspan><tspan> {tail}</tspan>
  </text>
);

const AxisNames = ({ gx, gy, sx, sy }: any) => (
  <g fontSize={32} fontFamily={FONT} fill="#111" textAnchor="middle">
    <text x={gx} y={gy}>GFP-A</text>
    <text transform={`translate(${sx},${sy}) rotate(-90)`}>SSC-A</text>
  </g>
);

const plotA = [179, 914, 62.7, 796];
const plotB = [1177, 1911.5, 59.7, 793];
const plotC = [181, 917, 1047.5, 1783.5];
const plotD = [1174, 1910, 1049.3, 1784];

const layersA = [{ data: gridPoints(1.207, 4.198, heatA), shape: HeatCell }, { data: stripePoints(CHANNELS, 4.198, stripesA), shape: StripeCell }];
const layersB = [
  { data: gridPoints(1.2, 4.2, bandB), shape: HeatCell },
  { data: gridPoints(3.33, 5.0, blobB), shape: HeatCell },
  { data: stripePoints(CHANNELS, 4.2, stripesB), shape: StripeCell },
  { data: stripePoints(edgeChannelB, 5.33, edgeStripeB), shape: StripeCell },
];
const layersC = [{ data: gridPoints(1.193, 4.15, heatC), shape: HeatCell }, { data: stripePoints(CHANNELS, 4.15, stripesC), shape: StripeCell }];
const layersD = [{ data: gridPoints(1.197, 4.153, heatD), shape: HeatCell }, { data: stripePoints(CHANNELS, 4.153, stripesD), shape: StripeCell }];

export default function App() {
  return (
    <div style={{ position: 'absolute', left: 0, top: 0, width: 1920, height: 1919, background: '#fff', overflow: 'hidden' }}>
      <Panel box={[0, 0, 960, 960]} plot={plotA} gates={gatesA} layers={layersA} dots={listPoints(sparseA)} faint={listPoints(faintA)} />
      <Panel box={[960, 0, 960, 960]} plot={plotB} gates={gatesB} layers={layersB} dots={listPoints(sparseB)} faint={listPoints(faintB)} />
      <Panel box={[0, 960, 960, 959]} plot={plotC} gates={gatesC} layers={layersC} dots={listPoints(sparseC)} faint={listPoints(faintC)} />
      <Panel box={[960, 960, 960, 959]} plot={plotD} gates={gatesD} layers={layersD} dots={listPoints(sparseD)} faint={listPoints(faintD)} />
      <svg width={1920} height={1919} style={{ position: 'absolute', left: 0, top: 0, pointerEvents: 'none' }}>
        <Title x={192} y={32.7} tail="with polyrhamnose" />
        <Title x={1176.7} y={26} atla tail="with polyrhamnose" />
        <Title x={197} y={1027} tail="without polyrhamnose" />
        <Title x={1172.7} y={1020.7} atla tail="without polyrhamnose" />
        <QuadText plot={plotA} q={quadA} xs={[192, 192, 806, 783, 192, 192, 806, 783]} />
        <QuadText plot={plotB} q={quadB} xs={[1190, 1190, 1805, 1783, 1190, 1190, 1805, 1783]} />
        <QuadText plot={plotC} q={quadC} xs={[193.5, 193.5, 809, 768, 193.5, 193.5, 809, 787]} />
        <QuadText plot={plotD} q={quadD} xs={[1186.5, 1186.5, 1802.5, 1779, 1186.5, 1186.5, 1802.5, 1779]} />
        <AxisNames gx={543.7} gy={925} sx={28} sy={428.6} />
        <AxisNames gx={1541.6} gy={922.5} sx={1026} sy={426} />
        <AxisNames gx={547.4} gy={1912} sx={29} sy={1416.7} />
        <AxisNames gx={1539} gy={1912} sx={1022.5} sy={1416.7} />
      </svg>
    </div>
  );
}
